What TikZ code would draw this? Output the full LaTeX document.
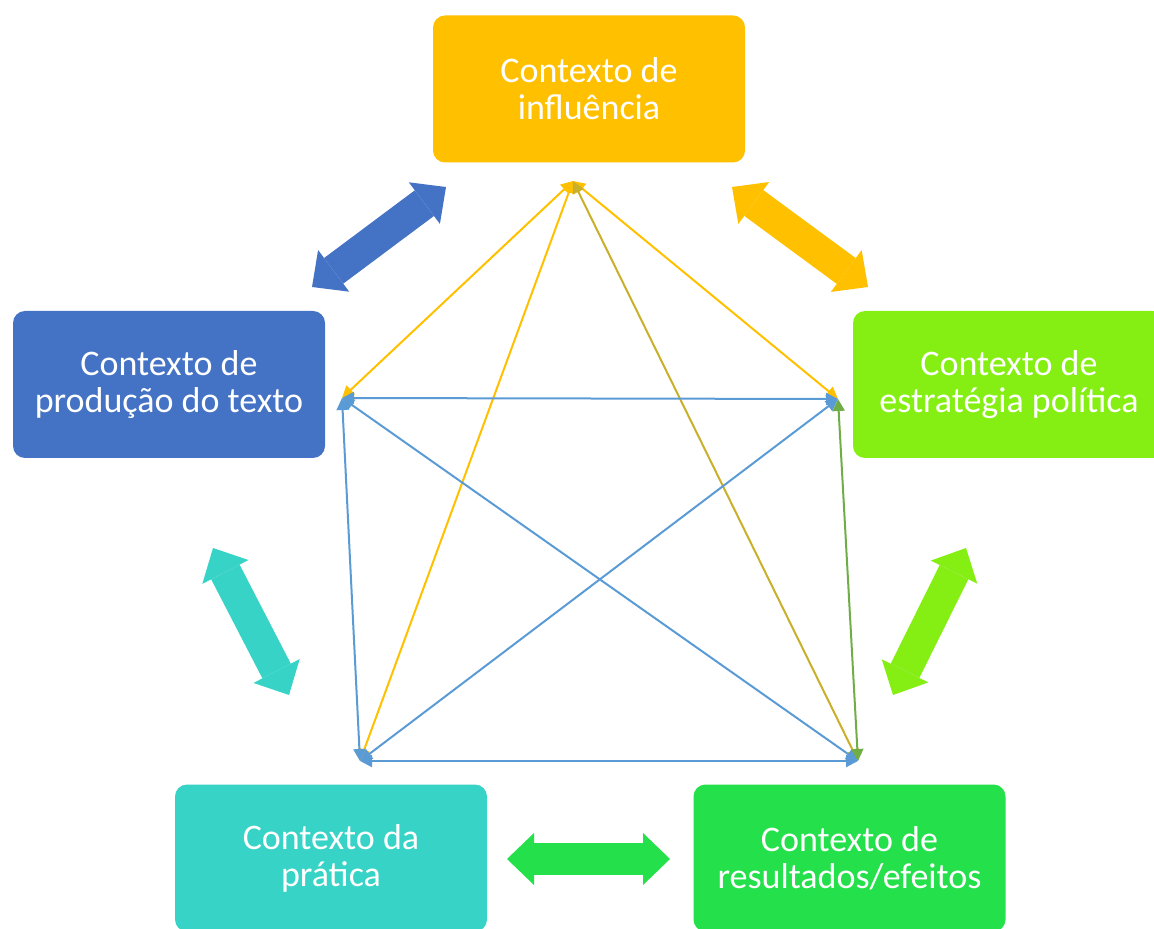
\documentclass[tikz,border=0pt]{standalone}
\usepackage{fontspec}
\setmainfont{Carlito}
\usetikzlibrary{arrows.meta}

\definecolor{cinfl}{HTML}{FFC000}
\definecolor{cprod}{HTML}{4472C4}
\definecolor{cestr}{HTML}{85EF13}
\definecolor{cprat}{HTML}{36D3C6}
\definecolor{cres}{HTML}{23E04B}
\definecolor{lblue}{HTML}{5B9BD5}
\definecolor{lgreen}{HTML}{70AD47}
\definecolor{lolive}{HTML}{C9B02A}

\tikzstyle{ctx} = [rectangle, rounded corners=6pt, minimum width=156pt, minimum height=73.5pt, inner sep=0pt, align=center, text=white, font={\fontsize{18pt}{18.5pt}\selectfont}]
\tikzstyle{fat} = [line width=16pt, <->, >={Triangle[length=13.5pt, width=26pt, line width=0pt]}]
\tikzstyle{link} = [line width=1pt, <->, >={Triangle[length=6pt, width=6pt]}]

\begin{document}
\begin{tikzpicture}[x=0.5pt, y=-0.5pt]
\useasboundingbox (0,0) rectangle (1154,929);
\clip (0,0) rectangle (1154,929);
\node (infl) [ctx, fill=cinfl] at (589,89) {Contexto de\\influência};
\node (prod) [ctx, fill=cprod] at (169,384.5) {Contexto de\\produção do texto};
\node (estr) [ctx, fill=cestr] at (1009,384.5) {Contexto de\\estratégia política};
\node (prat) [ctx, fill=cprat] at (331,858) {Contexto da\\prática};
\node (res) [ctx, fill=cres] at (849.5,858) {Contexto de\\resultados/efeitos};

% ends of the big arrows
\coordinate (ip1) at (446,187);
\coordinate (ip2) at (312,287);
\coordinate (ie1) at (732,187);
\coordinate (ie2) at (868,287);
\coordinate (er1) at (966,548);
\coordinate (er2) at (893,695);
\coordinate (pp1) at (213,548);
\coordinate (pp2) at (289,695);
\coordinate (pr1) at (507,859);
\coordinate (pr2) at (670,859);
\draw [fat, cprod] (ip2) -- (ip1);
\draw [fat, cinfl] (ie1) -- (ie2);
\draw [fat, cestr] (er1) -- (er2);
\draw [fat, cprat] (pp1) -- (pp2);
\draw [fat, cres] (pr1) -- (pr2);

% corners of the star
\coordinate (t) at (573,181);
\coordinate (l) at (342,398);
\coordinate (r) at (838,399);
\coordinate (bl) at (360,761);
\coordinate (br) at (858,761);
\draw [link, cinfl] (t) -- (l);
\draw [link, cinfl] (t) -- (r);
\draw [link, cinfl] (t) -- (bl);
\draw [link, lolive] (t) -- (br);
\draw [link, lblue] (l) -- (r);
\draw [link, lblue] (l) -- (bl);
\draw [link, lblue] (l) -- (br);
\draw [link, lblue] (r) -- (bl);
\draw [link, lblue] (bl) -- (br);
\draw [link, lgreen] (r) -- (br);
\end{tikzpicture}
\end{document}
